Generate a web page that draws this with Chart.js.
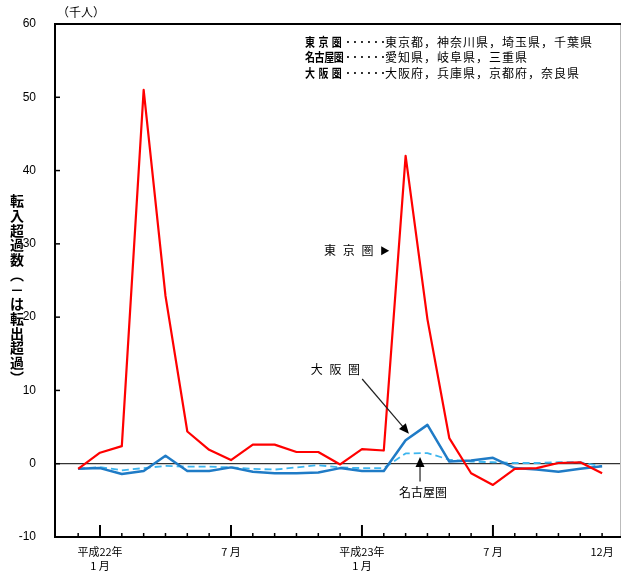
<!DOCTYPE html>
<html>
<head>
<meta charset="utf-8">
<script src="https://cdn.jsdelivr.net/npm/chart.js@4"></script>
<style>
  body { margin: 0; background: #fff; }
  #wrap { width: 623px; height: 574px; }
</style>
</head>
<body>
<div id="wrap"><canvas id="chart" width="623" height="574"></canvas></div>
<script>
// 平成21年12月 ～ 平成23年12月
const months = [
  "H21.12", "H22.1", "H22.2", "H22.3", "H22.4", "H22.5", "H22.6", "H22.7", "H22.8",
  "H22.9", "H22.10", "H22.11", "H22.12", "H23.1", "H23.2", "H23.3", "H23.4", "H23.5",
  "H23.6", "H23.7", "H23.8", "H23.9", "H23.10", "H23.11", "H23.12",
];
const tokyo = [
  -0.7, 1.5, 2.4, 51.0, 22.9, 4.4, 1.9, 0.5, 2.6, 2.6, 1.6, 1.6, -0.1,
  2.0, 1.8, 42.0, 19.7, 3.5, -1.3, -2.9, -0.7, -0.6, 0.1, 0.2, -1.3,
];
const osaka = [
  -0.7, -0.6, -1.4, -1.0, 1.1, -1.0, -1.0, -0.5, -1.1, -1.3, -1.3, -1.2, -0.6,
  -1.0, -1.0, 3.2, 5.3, 0.3, 0.45, 0.8, -0.6, -0.8, -1.1, -0.7, -0.35,
];
const nagoya = [
  -0.7, -0.45, -0.9, -0.6, -0.3, -0.4, -0.4, -0.5, -0.7, -0.8, -0.5, -0.2, -0.5,
  -0.6, -0.6, 1.4, 1.45, 0.55, 0.3, 0.2, 0.1, 0.1, 0.2, 0.2, -0.35,
];
// tick labels (index in months -> label lines)
const tickLabels = {
  1: ["平成22年", "1 月"],
  7: ["7 月"],
  13: ["平成23年", "1 月"],
  19: ["7 月"],
  24: ["12月"],
};
const majorTicks = [1, 7, 13, 19];
const yTicks = [-10, 0, 10, 20, 30, 40, 50, 60];

const legendRows = [
  ["東京圏", "東京都，神奈川県，埼玉県，千葉県"],
  ["名古屋圏", "愛知県，岐阜県，三重県"],
  ["大阪圏", "大阪府，兵庫県，京都府，奈良県"],
];
const yTitle = ["転", "入", "超", "過", "数", "︵", "－", "は", "転", "出", "超", "過", "︶"];

const JP = '"Noto Sans CJK JP", sans-serif';

const toPoints = (arr) => arr.map((v, i) => ({ x: i, y: v }));

const ctx = document.querySelector("#chart").getContext("2d");

function arrow(c, x1, y1, x2, y2) {
  const a = Math.atan2(y2 - y1, x2 - x1);
  const len = 10, w = 4.5;
  c.beginPath();
  c.moveTo(x1, y1);
  c.lineTo(x2 - Math.cos(a) * len * 0.8, y2 - Math.sin(a) * len * 0.8);
  c.strokeStyle = "#222";
  c.lineWidth = 1.2;
  c.stroke();
  c.beginPath();
  c.moveTo(x2, y2);
  c.lineTo(x2 - Math.cos(a) * len + Math.sin(a) * w, y2 - Math.sin(a) * len - Math.cos(a) * w);
  c.lineTo(x2 - Math.cos(a) * len - Math.sin(a) * w, y2 - Math.sin(a) * len + Math.cos(a) * w);
  c.closePath();
  c.fillStyle = "#000";
  c.fill();
}

const frame = {
  id: "frame",
  beforeDatasetsDraw(chart) {
    const { ctx: c, chartArea: a, scales: { y } } = chart;
    const y0 = y.getPixelForValue(0);
    c.save();
    c.strokeStyle = "#000";
    c.lineWidth = 1;
    c.beginPath();
    c.moveTo(a.left, y0);
    c.lineTo(a.right, y0);
    c.stroke();
    c.restore();
  },
  afterDatasetsDraw(chart) {
    const { ctx: c, chartArea: a, scales: { x, y } } = chart;
    c.save();
    // right border
    c.strokeStyle = "#bbb";
    c.lineWidth = 1;
    c.beginPath();
    c.moveTo(a.right - 0.5, a.top);
    c.lineTo(a.right - 0.5, a.bottom);
    c.stroke();
    // left, top, bottom
    c.strokeStyle = "#000";
    c.lineWidth = 2;
    c.beginPath();
    c.moveTo(a.right, a.top);
    c.lineTo(a.left, a.top);
    c.lineTo(a.left, a.bottom);
    c.lineTo(a.right, a.bottom);
    c.stroke();
    // inside ticks
    c.lineWidth = 1.5;
    yTicks.forEach((v) => {
      const py = y.getPixelForValue(v);
      c.beginPath();
      c.moveTo(a.left, py);
      c.lineTo(a.left + 5, py);
      c.stroke();
    });
    months.forEach((m, i) => {
      const px = x.getPixelForValue(i);
      const len = majorTicks.includes(i) ? 12 : 4;
      c.lineWidth = majorTicks.includes(i) ? 2 : 1.5;
      c.beginPath();
      c.moveTo(px, a.bottom);
      c.lineTo(px, a.bottom - len);
      c.stroke();
    });

    // unit
    c.fillStyle = "#000";
    c.font = "12px " + JP;
    c.textAlign = "left";
    c.textBaseline = "middle";
    c.fillText("（千人）", 57, 12);

    // legend box text
    legendRows.forEach((row, i) => {
      const ty = 42 + i * 15.7;
      c.font = "bold 12px " + JP;
      c.textAlign = "left";
      const chars = Array.from(row[0]);
      const step = chars.length === 4 ? 9.6 : 13.4;
      chars.forEach((ch, k) => c.fillText(ch, 305 + k * step, ty, 10));
      c.font = "12px " + JP;
      c.letterSpacing = "1px";
      c.fillText("･･････", 345, ty);
      c.fillText(row[1], 385, ty);
      c.letterSpacing = "0px";
    });

    // y title (vertical)
    c.font = "bold 14px " + JP;
    c.textAlign = "center";
    yTitle.forEach((ch, i) => {
      c.fillText(ch, 17, 201 + i * 14.7);
    });

    // annotations
    c.font = "12px " + JP;
    c.letterSpacing = "2px";
    c.textAlign = "right";
    c.fillText("東 京 圏", x.getPixelForValue(13.62), y.getPixelForValue(29.06));
    c.textAlign = "center";
    c.fillText("大 阪 圏", x.getPixelForValue(11.83), y.getPixelForValue(12.8));
    c.letterSpacing = "0px";
    c.fillText("名古屋圏", x.getPixelForValue(15.8), y.getPixelForValue(-3.96));
    // triangle marker after 東京圏
    const tx = x.getPixelForValue(13.88), ty = y.getPixelForValue(29.06);
    c.beginPath();
    c.moveTo(tx, ty - 4.5);
    c.lineTo(tx + 8, ty);
    c.lineTo(tx, ty + 4.5);
    c.closePath();
    c.fill();
    arrow(c, x.getPixelForValue(13.01), y.getPixelForValue(11.56),
      x.getPixelForValue(15.15), y.getPixelForValue(4.09));
    arrow(c, x.getPixelForValue(15.66), y.getPixelForValue(-2.41),
      x.getPixelForValue(15.66), y.getPixelForValue(0.91));
    c.restore();
  },
};

new Chart(ctx, {
  type: "line",
  data: {
    datasets: [
      {
        label: "東京圏",
        data: toPoints(tokyo),
        borderColor: "#FF0000",
        borderWidth: 2.2,
      },
      {
        label: "大阪圏",
        data: toPoints(osaka),
        borderColor: "#1F7BC6",
        borderWidth: 2.5,
      },
      {
        label: "名古屋圏",
        data: toPoints(nagoya),
        borderColor: "#3DB5EE",
        borderWidth: 1.8,
        borderDash: [7, 4],
      },
    ],
  },
  options: {
    responsive: false,
    animation: false,
    layout: { padding: { left: 0, top: 24, right: 2, bottom: 0 } },
    elements: {
      line: { tension: 0, fill: false, borderJoinStyle: "round" },
      point: { radius: 0, hoverRadius: 0 },
    },
    plugins: {
      legend: { display: false },
      tooltip: { enabled: false },
    },
    scales: {
      x: {
        type: "linear",
        min: -1.061,
        max: 24.866,
        grid: { display: false },
        border: { display: false },
        afterBuildTicks: (s) => {
          s.ticks = Object.keys(tickLabels).map((k) => ({ value: Number(k) }));
        },
        afterFit: (s) => { s.height = 37; },
        ticks: {
          autoSkip: false,
          maxRotation: 0,
          padding: -1,
          color: "#000",
          font: { family: "Noto Sans CJK JP", size: 11, lineHeight: 1.35 },
          callback: (v) => tickLabels[v] || "",
        },
      },
      y: {
        min: -10,
        max: 60,
        grid: { display: false },
        border: { display: false },
        afterFit: (s) => { s.width = 55; },
        ticks: {
          stepSize: 10,
          padding: 11,
          color: "#000",
          font: { family: "Liberation Sans", size: 12 },
        },
      },
    },
  },
  plugins: [frame],
});
</script>
</body>
</html>
